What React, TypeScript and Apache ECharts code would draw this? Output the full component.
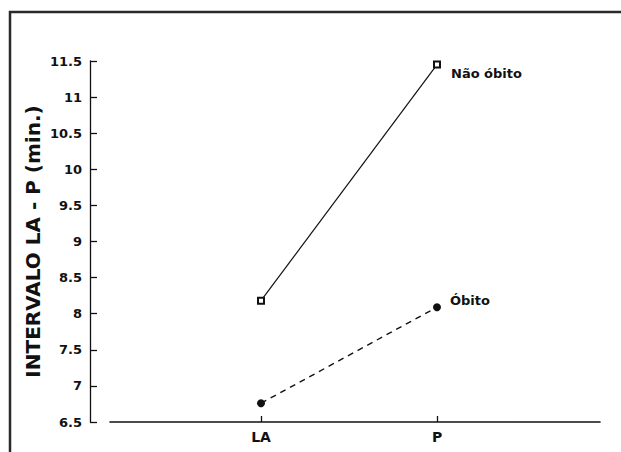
import React, { useEffect, useRef } from "react";
import * as echarts from "echarts";

const categories = ["LA", "P"];
const naoObito = [8.18, 11.45];
const obito = [6.76, 8.09];
const seriesNames = ["Não óbito", "Óbito"];
const yName = "INTERVALO LA - P (min.)";

export default function App() {
  const ref = useRef<HTMLDivElement>(null);
  useEffect(() => {
    if (!ref.current) return;
    const chart = echarts.init(ref.current, null, { renderer: "svg" });
    const font = "DejaVu Sans";
    const xPos = categories.map((_, i) => i + 1);
    chart.setOption({
      animation: false,
      backgroundColor: "#fff",
      graphic: [
        {
          type: "rect",
          shape: { x: 10, y: 12, width: 640, height: 470 },
          style: { fill: "none", stroke: "#2a2a2a", lineWidth: 2.5 },
          silent: true,
        },
      ],
      grid: [
        { left: 90, top: 61, bottom: 30, width: 10 },
        { left: 110, top: 61, bottom: 30, right: 21 },
      ],
      xAxis: [
        { gridIndex: 0, type: "value", show: false, min: 0, max: 1 },
        {
          gridIndex: 1,
          type: "value",
          min: 1 - 151 / 176,
          max: 2 + 163 / 176,
          splitLine: { show: false },
          axisLine: { lineStyle: { color: "#111", width: 1.6 } },
          axisTick: {
            customValues: xPos,
            inside: true,
            length: 6,
            lineStyle: { color: "#111", width: 1.3 },
          },
          axisLabel: {
            customValues: xPos,
            formatter: (v: number) => categories[Math.round(v) - 1] ?? "",
            color: "#111",
            fontFamily: font,
            fontSize: 14,
            fontWeight: "bold",
            margin: 8,
          },
        },
      ],
      yAxis: [
        {
          gridIndex: 0,
          type: "value",
          min: 6.5,
          max: 11.5,
          interval: 0.5,
          name: yName,
          nameLocation: "middle",
          nameGap: 47,
          nameTextStyle: { fontFamily: font, fontSize: 20, fontWeight: "bold", color: "#111" },
          splitLine: { show: false },
          axisLine: { show: true, lineStyle: { color: "#111", width: 1.3 } },
          axisTick: { show: true, inside: true, length: 7, lineStyle: { color: "#111", width: 1.3 } },
          axisLabel: { color: "#111", fontFamily: font, fontSize: 13, fontWeight: "bold", margin: 8 },
        },
        {
          gridIndex: 1,
          type: "value",
          min: 6.5,
          max: 11.5,
          show: false,
          splitLine: { show: false },
        },
      ],
      series: [
        {
          name: seriesNames[0],
          type: "line",
          xAxisIndex: 1,
          yAxisIndex: 1,
          data: naoObito.map((v, i) => [xPos[i], v]),
          symbol: "emptyRect",
          symbolSize: 6,
          lineStyle: { color: "#111", width: 1.2, type: "solid" },
          itemStyle: { color: "#111", borderWidth: 1.2 },
          label: {
            show: true,
            position: "right",
            offset: [5, 9],
            formatter: (p: any) => (p.dataIndex === naoObito.length - 1 ? seriesNames[0] : ""),
            color: "#111",
            fontFamily: font,
            fontSize: 13,
            fontWeight: "bold",
          },
        },
        {
          name: seriesNames[1],
          type: "line",
          xAxisIndex: 1,
          yAxisIndex: 1,
          data: obito.map((v, i) => [xPos[i], v]),
          symbol: "circle",
          symbolSize: 8,
          lineStyle: { color: "#111", width: 1.4, type: [6, 5] },
          itemStyle: { color: "#111" },
          label: {
            show: true,
            position: "right",
            offset: [4, -7],
            formatter: (p: any) => (p.dataIndex === obito.length - 1 ? seriesNames[1] : ""),
            color: "#111",
            fontFamily: font,
            fontSize: 13,
            fontWeight: "bold",
          },
        },
      ],
    });
    return () => chart.dispose();
  }, []);
  return (
    <div
      ref={ref}
      style={{ position: "absolute", left: 0, top: 0, width: 621, height: 452 }}
    />
  );
}
